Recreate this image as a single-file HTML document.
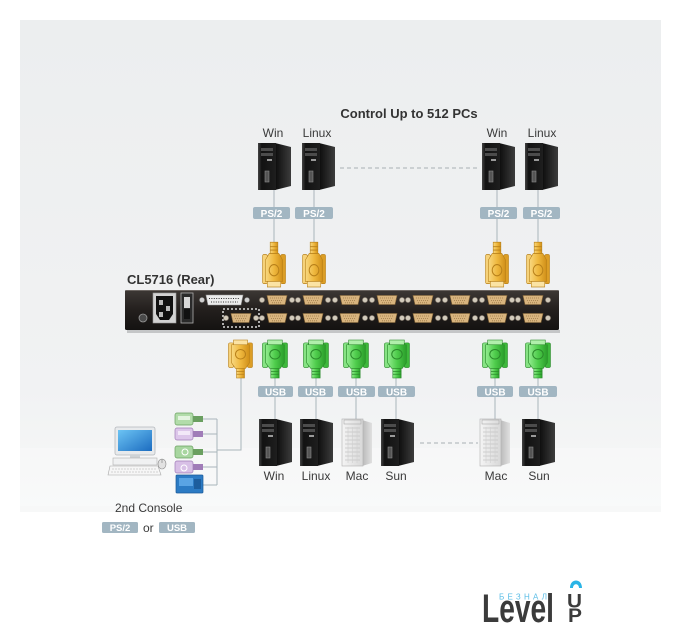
<!DOCTYPE html>
<html><head><meta charset="utf-8"><style>
html,body{margin:0;padding:0;background:#fff;}
svg{display:block;}
text{font-family:"Liberation Sans",Arial,sans-serif;}
</style></head><body>
<svg width="682" height="640" viewBox="0 0 682 640" xmlns="http://www.w3.org/2000/svg">
<defs>
 <linearGradient id="bg" x1="0" y1="0" x2="0" y2="1">
  <stop offset="0" stop-color="#eceeef"/>
  <stop offset="0.75" stop-color="#f1f2f3"/>
  <stop offset="1" stop-color="#f7f8f8"/>
 </linearGradient>
 <linearGradient id="kvm" x1="0" y1="0" x2="0" y2="1">
  <stop offset="0" stop-color="#3d3835"/>
  <stop offset="0.5" stop-color="#231f1d"/>
  <stop offset="1" stop-color="#141211"/>
 </linearGradient>
 <linearGradient id="side" x1="0" y1="0" x2="1" y2="0">
  <stop offset="0" stop-color="#0c0c0c"/>
  <stop offset="1" stop-color="#3c3c3c"/>
 </linearGradient>
 <linearGradient id="front" x1="0" y1="0" x2="1" y2="0">
  <stop offset="0" stop-color="#444"/>
  <stop offset="0.2" stop-color="#121212"/>
  <stop offset="1" stop-color="#1e1e1e"/>
 </linearGradient>
 <linearGradient id="macf" x1="0" y1="0" x2="1" y2="0">
  <stop offset="0" stop-color="#f4f4f4"/>
  <stop offset="1" stop-color="#d8d8d8"/>
 </linearGradient>
 <linearGradient id="macs" x1="0" y1="0" x2="1" y2="0">
  <stop offset="0" stop-color="#b8b8b8"/>
  <stop offset="1" stop-color="#e0e0e0"/>
 </linearGradient>
 <linearGradient id="org" x1="0" y1="0" x2="1" y2="0">
  <stop offset="0" stop-color="#f8d880"/>
  <stop offset="0.5" stop-color="#efb83e"/>
  <stop offset="1" stop-color="#d08f18"/>
 </linearGradient>
 <linearGradient id="grn" x1="0" y1="0" x2="1" y2="0">
  <stop offset="0" stop-color="#93ec90"/>
  <stop offset="0.5" stop-color="#4fcd4c"/>
  <stop offset="1" stop-color="#2a9e2a"/>
 </linearGradient>
 <linearGradient id="scr" x1="0" y1="0" x2="1" y2="1">
  <stop offset="0" stop-color="#6cc4f4"/>
  <stop offset="1" stop-color="#1c6cc0"/>
 </linearGradient>
 <g id="tower">
  <polygon points="17,0 33,4 33,43 17,47" fill="url(#side)"/>
  <rect x="0" y="0" width="18" height="47" fill="url(#front)"/>
  <rect x="3" y="5" width="12" height="3" fill="#4c4c4c"/>
  <rect x="3" y="10" width="12" height="3" fill="#4c4c4c"/>
  <rect x="9" y="16" width="5" height="2" fill="#9a9a9a"/>
  <rect x="7" y="28" width="4" height="11" fill="#555" stroke="#8a8a8a" stroke-width="0.6"/>
 </g>
 <g id="mac">
  <polygon points="20,1 30,4 30,44 20,47" fill="url(#macs)"/>
  <rect x="0" y="0" width="21" height="47" fill="url(#macf)" stroke="#b0b0b0" stroke-width="0.6"/>
  <rect x="2" y="1" width="17" height="4" fill="none" stroke="#aaa" stroke-width="0.6"/>
  <path d="M3,9 H18 M3,13 H18 M3,17 H18 M3,21 H18 M3,25 H18 M3,29 H18 M3,33 H18 M3,37 H18 M3,41 H18" stroke="#c4c4c4" stroke-width="0.8"/>
  <path d="M6,8 V44 M10.5,8 V44 M15,8 V44" stroke="#cfcfcf" stroke-width="0.6"/>
 </g>
 <g id="plugG">
  <rect x="0" y="3" width="5" height="26" rx="1.5" fill="#86e383" stroke="#2a8a2a" stroke-width="0.6"/>
  <rect x="19" y="3" width="5" height="26" rx="1.5" fill="#3db93b" stroke="#2a8a2a" stroke-width="0.6"/>
  <path d="M3,5 H21 V24 L17,30 H7 L3,24 Z" fill="url(#grn)" stroke="#2a8a2a" stroke-width="0.6"/>
  <rect x="5" y="0" width="14" height="5" fill="#b0efab" stroke="#2a8a2a" stroke-width="0.6"/>
  <circle cx="12" cy="15" r="5" fill="none" stroke="#2a8a2a" stroke-width="1"/>
  <rect x="8" y="30" width="8" height="10" fill="url(#grn)" stroke="#2a8a2a" stroke-width="0.6"/>
  <path d="M8,33 H16 M8,36 H16" stroke="#2a8a2a" stroke-width="0.8"/>
 </g>
 <g id="plugO">
  <rect x="0" y="3" width="5" height="26" rx="1.5" fill="#f6d27a" stroke="#b8801a" stroke-width="0.6"/>
  <rect x="19" y="3" width="5" height="26" rx="1.5" fill="#dc9e26" stroke="#b8801a" stroke-width="0.6"/>
  <path d="M3,5 H21 V24 L17,30 H7 L3,24 Z" fill="url(#org)" stroke="#b8801a" stroke-width="0.6"/>
  <rect x="5" y="0" width="14" height="5" fill="#fbe3a4" stroke="#b8801a" stroke-width="0.6"/>
  <circle cx="12" cy="15" r="5" fill="none" stroke="#b8801a" stroke-width="1"/>
  <rect x="8" y="30" width="8" height="10" fill="url(#org)" stroke="#b8801a" stroke-width="0.6"/>
  <path d="M8,33 H16 M8,36 H16" stroke="#b8801a" stroke-width="0.8"/>
 </g>
 <g id="vga">
  <circle cx="-15" cy="0" r="2.6" fill="#d2cabb" stroke="#7a7064" stroke-width="0.6"/>
  <circle cx="15" cy="0" r="2.6" fill="#d2cabb" stroke="#7a7064" stroke-width="0.6"/>
  <path d="M-10,-4.5 H10 L8,4.5 H-8 Z" fill="#d8b47e" stroke="#8a6a3a" stroke-width="0.6"/>
  <path d="M-7,-2 H7 M-6,0.5 H6 M-5,2.8 H5" stroke="#9a7a4a" stroke-width="0.8" stroke-dasharray="1,1"/>
 </g>
</defs>

<!-- background panel -->
<rect x="20" y="20" width="641" height="492" fill="url(#bg)"/>
<rect x="20" y="448" width="641" height="58" fill="#ffffff" opacity="0.25"/>

<!-- title -->
<text x="409" y="118" font-size="13" font-weight="bold" fill="#333" text-anchor="middle">Control Up to 512 PCs</text>

<!-- top labels -->
<g font-size="12" fill="#3a3a3a" text-anchor="middle">
 <text x="273" y="137">Win</text>
 <text x="317" y="137">Linux</text>
 <text x="497" y="137">Win</text>
 <text x="542" y="137">Linux</text>
</g>

<!-- top lines -->
<g stroke="#a9b5bb" stroke-width="1">
 <line x1="274" y1="190" x2="274" y2="248"/>
 <line x1="314" y1="190" x2="314" y2="248"/>
 <line x1="497" y1="190" x2="497" y2="248"/>
 <line x1="538" y1="190" x2="538" y2="248"/>
</g>
<line x1="340" y1="168" x2="478" y2="168" stroke="#a8b0b4" stroke-width="1" stroke-dasharray="4,3"/>

<!-- top towers -->
<use href="#tower" x="258" y="143"/>
<use href="#tower" x="302" y="143"/>
<use href="#tower" x="482" y="143"/>
<use href="#tower" x="525" y="143"/>

<!-- PS/2 badges -->
<g fill="#a2b6c2">
 <rect x="253" y="207" width="37" height="12" rx="2"/>
 <rect x="295" y="207" width="38" height="12" rx="2"/>
 <rect x="480" y="207" width="37" height="12" rx="2"/>
 <rect x="523" y="207" width="37" height="12" rx="2"/>
</g>
<g font-size="10" font-weight="bold" fill="#fff" text-anchor="middle">
 <text x="271.5" y="217">PS/2</text>
 <text x="314" y="217">PS/2</text>
 <text x="498.5" y="217">PS/2</text>
 <text x="541.5" y="217">PS/2</text>
</g>

<!-- top orange plugs (flipped) -->
<use href="#plugO" transform="translate(262.5,287) scale(0.96,-1.12)"/>
<use href="#plugO" transform="translate(302.5,287) scale(0.96,-1.12)"/>
<use href="#plugO" transform="translate(485.5,287) scale(0.96,-1.12)"/>
<use href="#plugO" transform="translate(526.5,287) scale(0.96,-1.12)"/>

<!-- CL5716 label -->
<text x="127" y="284" font-size="13" font-weight="bold" fill="#333">CL5716 (Rear)</text>

<!-- KVM panel -->
<rect x="127" y="330" width="433" height="3" fill="#c4c6c7"/>
<rect x="125" y="290" width="434" height="40" rx="1.5" fill="url(#kvm)"/>
<line x1="126" y1="290.5" x2="558" y2="290.5" stroke="#6a6460" stroke-width="1"/>
<circle cx="143" cy="318" r="4" fill="#4a4a4a" stroke="#9a9a9a" stroke-width="0.8"/>
<rect x="153" y="293" width="23" height="30" fill="#d2d2d2" stroke="#9a9a9a" stroke-width="0.6"/>
<path d="M156,296 H173 V314 L169,320 H160 L156,314 Z" fill="#111"/>
<rect x="159" y="300" width="4" height="5" fill="#bbb"/>
<rect x="166" y="306" width="4" height="5" fill="#bbb"/>
<rect x="159" y="312" width="4" height="5" fill="#bbb"/>
<rect x="181" y="293" width="12" height="30" fill="#2a2a2a" stroke="#b0b0b0" stroke-width="0.8"/>
<rect x="184" y="297" width="6" height="11" fill="#d8d8d8"/>
<rect x="184" y="309" width="6" height="10" fill="#111"/>
<circle cx="202" cy="300" r="2.5" fill="#d0d0d0" stroke="#888" stroke-width="0.5"/>
<circle cx="247" cy="300" r="2.5" fill="#d0d0d0" stroke="#888" stroke-width="0.5"/>
<path d="M206,295 H243 L241,305 H208 Z" fill="#ececec" stroke="#999" stroke-width="0.6"/>
<path d="M209,298.5 H240 M211,302 H238" stroke="#333" stroke-width="1.1" stroke-dasharray="1,1.4"/>
<rect x="223" y="309" width="36" height="18" fill="none" stroke="#ffffff" stroke-width="1.3" stroke-dasharray="2,2"/>
<use href="#vga" transform="translate(241,318)"/>
<use href="#vga" transform="translate(277,300)"/>
<use href="#vga" transform="translate(313,300)"/>
<use href="#vga" transform="translate(350,300)"/>
<use href="#vga" transform="translate(387,300)"/>
<use href="#vga" transform="translate(423,300)"/>
<use href="#vga" transform="translate(460,300)"/>
<use href="#vga" transform="translate(497,300)"/>
<use href="#vga" transform="translate(533,300)"/>
<use href="#vga" transform="translate(277,318)"/>
<use href="#vga" transform="translate(313,318)"/>
<use href="#vga" transform="translate(350,318)"/>
<use href="#vga" transform="translate(387,318)"/>
<use href="#vga" transform="translate(423,318)"/>
<use href="#vga" transform="translate(460,318)"/>
<use href="#vga" transform="translate(497,318)"/>
<use href="#vga" transform="translate(533,318)"/>

<!-- lower lines -->
<g stroke="#a9b5bb" stroke-width="1" fill="none">
 <line x1="275" y1="372" x2="275" y2="420"/>
 <line x1="316" y1="372" x2="316" y2="420"/>
 <line x1="356" y1="372" x2="356" y2="420"/>
 <line x1="396" y1="372" x2="396" y2="420"/>
 <line x1="495" y1="372" x2="495" y2="420"/>
 <line x1="538" y1="372" x2="538" y2="420"/>
 <polyline points="241,372 241,450 217,450"/>
 <line x1="217" y1="419" x2="217" y2="485"/>
 <line x1="203" y1="419" x2="217" y2="419"/>
 <line x1="203" y1="434" x2="217" y2="434"/>
 <line x1="203" y1="452" x2="217" y2="452"/>
 <line x1="203" y1="467" x2="217" y2="467"/>
 <line x1="203" y1="485" x2="217" y2="485"/>
</g>
<line x1="420" y1="443" x2="478" y2="443" stroke="#a8b0b4" stroke-width="1" stroke-dasharray="4,3"/>

<!-- lower plugs -->
<use href="#plugO" transform="translate(228.5,340) scale(1.0,0.95)"/>
<use href="#plugG" transform="translate(262.5,340) scale(1.04,0.95)"/>
<use href="#plugG" transform="translate(303.5,340) scale(1.04,0.95)"/>
<use href="#plugG" transform="translate(343.5,340) scale(1.04,0.95)"/>
<use href="#plugG" transform="translate(384.5,340) scale(1.04,0.95)"/>
<use href="#plugG" transform="translate(482.5,340) scale(1.04,0.95)"/>
<use href="#plugG" transform="translate(525.5,340) scale(1.04,0.95)"/>

<!-- USB badges -->
<g fill="#a2b6c2">
 <rect x="258" y="386" width="35" height="11" rx="2"/>
 <rect x="298" y="386" width="35" height="11" rx="2"/>
 <rect x="338" y="386" width="37" height="11" rx="2"/>
 <rect x="378" y="386" width="37" height="11" rx="2"/>
 <rect x="477" y="386" width="36" height="11" rx="2"/>
 <rect x="519" y="386" width="38" height="11" rx="2"/>
</g>
<g font-size="10" font-weight="bold" fill="#fff" text-anchor="middle">
 <text x="275.5" y="395.5">USB</text>
 <text x="315.5" y="395.5">USB</text>
 <text x="356.5" y="395.5">USB</text>
 <text x="396.5" y="395.5">USB</text>
 <text x="495" y="395.5">USB</text>
 <text x="538" y="395.5">USB</text>
</g>

<!-- lower towers -->
<use href="#tower" x="259" y="419"/>
<use href="#tower" x="300" y="419"/>
<use href="#mac" x="342" y="419"/>
<use href="#tower" x="381" y="419"/>
<use href="#mac" x="480" y="419"/>
<use href="#tower" x="522" y="419"/>

<g font-size="12" fill="#3a3a3a" text-anchor="middle">
 <text x="274" y="480">Win</text>
 <text x="316" y="480">Linux</text>
 <text x="357" y="480">Mac</text>
 <text x="396" y="480">Sun</text>
 <text x="496" y="480">Mac</text>
 <text x="539" y="480">Sun</text>
</g>

<!-- console plugs -->
<rect x="175" y="413" width="18" height="12" rx="2" fill="#b2dcaa" stroke="#6aa060" stroke-width="0.7"/>
<rect x="178" y="416" width="12" height="4" fill="#e4f4e0"/>
<rect x="193" y="416" width="10" height="6" fill="#6a9f60"/>
<rect x="175" y="428" width="18" height="12" rx="2" fill="#dcc6ea" stroke="#a07cb8" stroke-width="0.7"/>
<rect x="178" y="431" width="12" height="4" fill="#f2e8f8"/>
<rect x="193" y="431" width="10" height="6" fill="#a07cb8"/>
<rect x="175" y="446" width="18" height="12" rx="2" fill="#a8d6a0" stroke="#6aa060" stroke-width="0.7"/>
<circle cx="185" cy="452" r="3" fill="none" stroke="#fff" stroke-width="1"/>
<rect x="193" y="449" width="10" height="6" fill="#6a9f60"/>
<rect x="175" y="461" width="18" height="12" rx="2" fill="#d8c0e6" stroke="#a07cb8" stroke-width="0.7"/>
<circle cx="184" cy="468" r="3" fill="none" stroke="#fff" stroke-width="1"/>
<rect x="193" y="464" width="10" height="6" fill="#a07cb8"/>
<rect x="176" y="475" width="27" height="18" rx="1" fill="#2c7bc4" stroke="#1b5a98" stroke-width="0.7"/>
<rect x="179" y="478" width="14" height="8" fill="#5aa4e4"/>
<rect x="194" y="479" width="7" height="10" fill="#1d5e9e"/>

<!-- computer -->
<rect x="115" y="427" width="40" height="28" rx="2" fill="#e8eaec" stroke="#b4b8bc" stroke-width="0.8"/>
<rect x="118" y="430" width="34" height="21" fill="url(#scr)"/>
<rect x="130" y="455" width="10" height="4" fill="#cfd3d6"/>
<rect x="113" y="458" width="44" height="7" fill="#f0f1f2" stroke="#b0b0b0" stroke-width="0.6"/>
<path d="M110,466 H158 L161,475 H108 Z" fill="#f6f6f6" stroke="#a8a8a8" stroke-width="0.6"/>
<path d="M112,469 H157 M111,472 H158" stroke="#c8c8c8" stroke-width="0.8" stroke-dasharray="2,1"/>
<ellipse cx="162" cy="464" rx="4" ry="5" fill="#e2e2e2" stroke="#888" stroke-width="0.6"/>
<line x1="162" y1="459" x2="162" y2="463" stroke="#777" stroke-width="0.6"/>

<text x="115" y="512" font-size="12" fill="#3a3a3a">2nd Console</text>
<rect x="102" y="522" width="36" height="11" rx="1.5" fill="#a2b6c2"/>
<text x="120" y="531" font-size="9.5" font-weight="bold" fill="#fff" text-anchor="middle">PS/2</text>
<text x="143" y="532" font-size="12" fill="#3a3a3a">or</text>
<rect x="159" y="522" width="36" height="11" rx="1.5" fill="#a2b6c2"/>
<text x="177" y="531" font-size="9.5" font-weight="bold" fill="#fff" text-anchor="middle">USB</text>

<!-- logo -->
<text x="482" y="622" font-size="40" font-weight="bold" fill="#3b3b3b" textLength="72" lengthAdjust="spacingAndGlyphs">Level</text>
<text x="499" y="599.5" font-size="8" fill="#5bbde6" textLength="48" lengthAdjust="spacing">БЕЗНАЛ</text>
<text x="567" y="607.5" font-size="19" font-weight="bold" fill="#3b3b3b" textLength="15" lengthAdjust="spacingAndGlyphs">U</text>
<text x="568" y="622" font-size="19" font-weight="bold" fill="#3b3b3b" textLength="14" lengthAdjust="spacingAndGlyphs">P</text>
<path d="M570,588 C570,578 582,578 582,588 L579,588 C579,583 573,583 573,588 Z" fill="#2ab4e6"/>
</svg>
</body></html>
